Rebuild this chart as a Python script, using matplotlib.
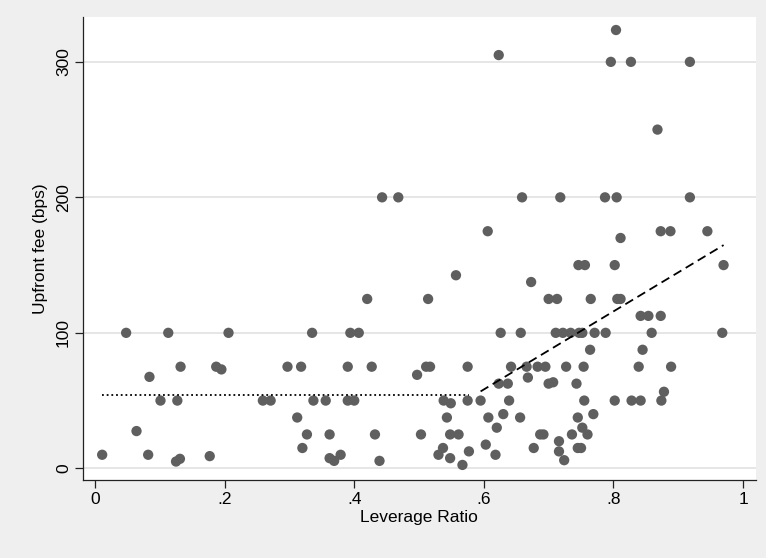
# Upfront fee vs leverage ratio scatter, with flat mean below the break and linear fit above
import matplotlib
matplotlib.use("Agg")
import matplotlib.pyplot as plt
import numpy as np

plt.rcParams['font.family'] = ['Liberation Sans', 'DejaVu Sans']

# leverage ratio of each deal
leverage = [
    0.011, 0.048, 0.064, 0.082, 0.084, 0.101, 0.113, 0.127, 0.125, 0.131,
    0.132, 0.177, 0.187, 0.195, 0.206, 0.259, 0.271, 0.297, 0.312, 0.318,
    0.320, 0.327, 0.335, 0.337, 0.356, 0.362, 0.362, 0.369, 0.379, 0.390,
    0.390, 0.394, 0.400, 0.407, 0.420, 0.427, 0.432, 0.439, 0.443, 0.468,
    0.497, 0.503, 0.511, 0.517, 0.514, 0.530, 0.537, 0.538, 0.543, 0.548,
    0.548, 0.549, 0.557, 0.561, 0.575, 0.575, 0.577, 0.567, 0.595, 0.603,
    0.606, 0.607, 0.618, 0.620, 0.623, 0.623, 0.626, 0.630, 0.637, 0.639,
    0.642, 0.656, 0.657, 0.659, 0.666, 0.668, 0.673, 0.677, 0.683, 0.687,
    0.692, 0.695, 0.700, 0.700, 0.707, 0.711, 0.713, 0.716, 0.716, 0.718,
    0.722, 0.724, 0.727, 0.734, 0.736, 0.743, 0.745, 0.746, 0.745, 0.750,
    0.747, 0.752, 0.752, 0.754, 0.756, 0.755, 0.760, 0.764, 0.765, 0.769,
    0.771, 0.787, 0.788, 0.796, 0.802, 0.802, 0.804, 0.805, 0.806, 0.811,
    0.811, 0.827, 0.828, 0.839, 0.842, 0.842, 0.845, 0.854, 0.859, 0.868,
    0.873, 0.873, 0.874, 0.878, 0.888, 0.889, 0.918, 0.918, 0.945, 0.968,
    0.970,
]

# upfront fee in basis points
fee = [
    10, 100, 27.5, 10, 67.5, 50, 100, 50, 5, 7,
    75, 9, 75, 73, 100, 50, 50, 75, 37.5, 75,
    15, 25, 100, 50, 50, 25, 7.5, 5.5, 10, 75,
    50, 100, 50, 100, 125, 75, 25, 5.5, 200, 200,
    69, 25, 75, 75, 125, 10, 15, 50, 37.5, 25,
    7.5, 48, 142.5, 25, 75, 50, 12.5, 2.5, 50, 17.5,
    175, 37.5, 10, 30, 305, 62.5, 100, 40, 62.5, 50,
    75, 37.5, 100, 200, 75, 67, 137.5, 15, 75, 25,
    25, 75, 125, 62.5, 63.5, 100, 125, 20, 12.5, 200,
    100, 6, 75, 100, 25, 62.5, 37.5, 150, 15, 15,
    100, 100, 30, 75, 150, 50, 25, 87.5, 125, 40,
    100, 200, 100, 300, 150, 50, 323.5, 200, 125, 125,
    170, 300, 50, 75, 112.5, 50, 87.5, 112.5, 100, 250,
    112.5, 175, 50, 56.5, 175, 75, 300, 200, 175, 100,
    150,
]

# fitted lines: flat mean below the break, linear fit above it
break_ratio = 0.585
flat_fee = 54.3
fit_intercept = -114.6
fit_slope = 288.0

x_ticks = [0, 0.2, 0.4, 0.6, 0.8, 1.0]
x_tick_labels = ["0", ".2", ".4", ".6", ".8", "1"]
y_ticks = [0, 100, 200, 300]

lev = np.array(leverage)
low = lev[lev < break_ratio]
high = lev[lev >= break_ratio]

fig = plt.figure(figsize=(7.66, 5.58), dpi=100, facecolor="#efefef")
ax = fig.add_axes([0.108, 0.1392, 0.879, 0.8308])
ax.set_facecolor("white")

# horizontal grid on the y ticks only
for yv in y_ticks:
    ax.axhline(yv, color="#e4e4e4", linewidth=1.3, zorder=0)

ax.scatter(leverage, fee, s=55, color="#5f5f5f", edgecolors="none", zorder=3)

# flat segment
ax.plot([low.min(), low.max()], [flat_fee, flat_fee], color="black",
        linestyle=(0, (1.0, 1.6)), linewidth=1.3, zorder=4)
# fitted segment
xs = np.array([high.min(), high.max()])
ax.plot(xs, fit_intercept + fit_slope * xs, color="black",
        linestyle=(0, (5, 2.8)), linewidth=1.3, zorder=4)

ax.set_xlim(-0.019, 1.0201)
ax.set_ylim(-8.86, 333.3)

ax.set_xticks(x_ticks)
ax.set_xticklabels(x_tick_labels, fontsize=12.5)
ax.set_yticks(y_ticks)
ax.set_yticklabels([str(v) for v in y_ticks], fontsize=12.5, rotation=90, va="center")
ax.tick_params(axis="both", direction="out", length=5.5, width=0.9, color="#222222", pad=3)

ax.set_xlabel("Leverage Ratio", fontsize=12.5, labelpad=2)
ax.set_ylabel("Upfront fee (bps)", fontsize=12.5, labelpad=6)

for side in ["top", "right"]:
    ax.spines[side].set_visible(False)
for side in ["left", "bottom"]:
    ax.spines[side].set_color("#222222")
    ax.spines[side].set_linewidth(0.9)

plt.savefig("out.png", dpi=100, facecolor=fig.get_facecolor())
plt.close()
